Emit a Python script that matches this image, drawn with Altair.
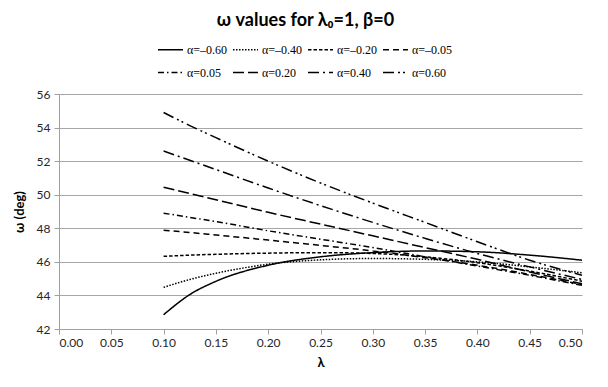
import altair as alt
import pandas as pd

# λ sample points
lam = [0.10, 0.125, 0.15, 0.20, 0.25, 0.30, 0.35, 0.40, 0.45, 0.50]

series_labels = ["α=–0.60", "α=–0.40", "α=–0.20", "α=–0.05",
                 "α=0.05", "α=0.20", "α=0.40", "α=0.60"]

a_m060 = [42.85, 44.05, 44.84, 45.80, 46.30, 46.55, 46.65, 46.60, 46.40, 46.10]
a_m040 = [44.48, 44.95, 45.32, 45.86, 46.12, 46.20, 46.15, 46.00, 45.70, 45.35]
a_m020 = [46.33, 46.40, 46.45, 46.52, 46.55, 46.50, 46.30, 45.95, 45.45, 44.85]
a_m005 = [47.88, 47.75, 47.60, 47.30, 46.98, 46.65, 46.25, 45.80, 45.25, 44.65]
a_p005 = [48.90, 48.65, 48.40, 47.85, 47.35, 46.85, 46.30, 45.75, 45.20, 44.60]
a_p020 = [50.45, 50.07, 49.70, 48.95, 48.25, 47.55, 46.85, 46.15, 45.40, 44.70]
a_p040 = [52.60, 52.05, 51.50, 50.40, 49.35, 48.35, 47.40, 46.50, 45.70, 44.95]
a_p060 = [54.90, 54.12, 53.40, 52.00, 50.70, 49.50, 48.35, 47.20, 46.10, 45.20]

all_series = [a_m060, a_m040, a_m020, a_m005, a_p005, a_p020, a_p040, a_p060]

dash_patterns = [[1, 0], [1.5, 1.5], [3.5, 2], [6, 4], [6, 3, 1.5, 3],
                 [11, 4], [11, 4, 2, 4], [11, 4, 2, 3, 2, 4]]

x_ticks = [0.0, 0.05, 0.10, 0.15, 0.20, 0.25, 0.30, 0.35, 0.40, 0.45, 0.50]
y_ticks = [42, 44, 46, 48, 50, 52, 54, 56]

rows = []
for label, vals in zip(series_labels, all_series):
    for l, v in zip(lam, vals):
        rows.append({"lam": l, "omega": v, "series": label})
df = pd.DataFrame(rows)

tick_font = "Lato"

chart = alt.Chart(df).mark_line(
    color="black", strokeWidth=1.5, interpolate="monotone"
).encode(
    x=alt.X("lam:Q",
            scale=alt.Scale(domain=[0, 0.5], nice=False, zero=False),
            axis=alt.Axis(values=x_ticks, format=".2f", title="λ",
                          grid=False, tickSize=5, labelPadding=3,
                          titlePadding=8)),
    y=alt.Y("omega:Q",
            scale=alt.Scale(domain=[42, 56], nice=False, zero=False),
            axis=alt.Axis(values=y_ticks, format="d", title="ω (deg)",
                          grid=True, tickSize=5, labelPadding=4,
                          titlePadding=10)),
    strokeDash=alt.StrokeDash(
        "series:N",
        scale=alt.Scale(domain=series_labels, range=dash_patterns),
        legend=alt.Legend(orient="none", legendX=98, legendY=-58,
                          direction="horizontal", columns=4, title=None,
                          symbolType="stroke", symbolSize=625,
                          symbolStrokeWidth=1.5, symbolStrokeColor="black",
                          labelFont="Liberation Serif", labelFontSize=12,
                          labelColor="black", labelOffset=3,
                          columnPadding=2, rowPadding=3),
    ),
    detail="series:N",
).properties(
    width=523,
    height=235,
    autosize=alt.AutoSizeParams(type="none"),
    padding={"left": 51, "top": 86, "right": 18, "bottom": 48},
    title=alt.Title("ω values for λ₀=1, β=0", font="Lato", fontSize=18,
                    fontWeight="bold", color="black", anchor="middle",
                    offset=30, dx=-15, dy=24),
).configure_view(
    stroke=None
).configure_axis(
    labelFont=tick_font, labelFontSize=12, labelColor="#262626",
    titleFont="Lato", titleFontSize=13, titleFontWeight="bold",
    titleColor="black",
    domainColor="#a0a0a0", tickColor="#a0a0a0",
    gridColor="#a6a6a6", gridWidth=1,
)

chart.save("out.html", embed_options={"renderer": "svg", "actions": False})
